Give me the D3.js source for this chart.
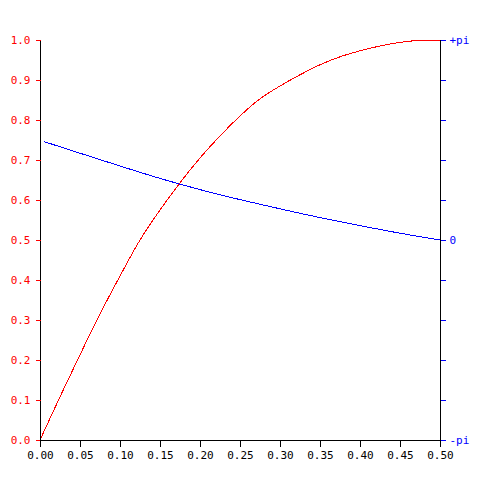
<!DOCTYPE html>
<html><head><meta charset="utf-8">
<script src="https://cdn.jsdelivr.net/npm/d3@7"></script>
<style>body{margin:0;background:#fff}svg{display:block}text{font-family:"DejaVu Sans Mono",monospace;font-size:11px}</style>
</head><body><svg id="c" width="480" height="480"></svg>
<script>
const ampFreq = [0,0.025,0.05,0.075,0.1,0.125,0.15,0.175,0.2,0.225,0.25,0.275,0.3,0.325,0.35,0.375,0.4,0.425,0.45,0.475,0.5];
const ampVals = [0,0.108,0.213,0.315,0.41,0.5,0.575,0.643,0.705,0.76,0.81,0.853,0.885,0.913,0.938,0.958,0.973,0.985,0.994,0.999,1.0];
const phaseFreq = [0.005,0.05,0.1,0.15,0.2,0.25,0.3,0.35,0.4,0.45,0.5];
const phaseVals = [0.746,0.717,0.685,0.654,0.626,0.601,0.578,0.556,0.536,0.517,0.5];
const xTicks = [0,0.05,0.1,0.15,0.2,0.25,0.3,0.35,0.4,0.45,0.5];
const yTicks = [0,0.1,0.2,0.3,0.4,0.5,0.6,0.7,0.8,0.9,1.0];
const rightLabels = {"0":"-pi","0.5":"0","1":"+pi"};

const svg = d3.select("#c");
const x = d3.scaleLinear().domain([0,0.5]).range([40,440]);
const y = d3.scaleLinear().domain([0,1]).range([440,40]);

// curves
const line = d3.line().x(d=>x(d[0])).y(d=>y(d[1])).curve(d3.curveMonotoneX);
svg.append("path").datum(phaseFreq.map((f,i)=>[f,phaseVals[i]]))
  .attr("d",line).attr("fill","none").attr("stroke","#0000ff").attr("stroke-width",1);
svg.append("path").datum(ampFreq.map((f,i)=>[f,ampVals[i]]))
  .attr("d",line).attr("fill","none").attr("stroke","#ff0000").attr("stroke-width",1);

// left axis
const gl = svg.append("g").attr("transform","translate(40.5,0)")
  .call(d3.axisLeft(y).tickValues(yTicks).tickFormat(d3.format(".1f")).tickSize(5).tickPadding(5));
gl.select(".domain").attr("stroke","#000").attr("d","M0,40V440.5");
gl.selectAll(".tick line").attr("stroke","#ff0000");
gl.selectAll(".tick text").attr("fill","#ff0000").style("font-family","DejaVu Sans Mono").style("font-size","11px");

// right axis
const gr = svg.append("g").attr("transform","translate(440.5,0)")
  .call(d3.axisRight(y).tickValues(yTicks).tickFormat(d=>rightLabels[String(+d.toFixed(1))]||"").tickSize(5).tickPadding(4));
gr.select(".domain").attr("stroke","#000").attr("d","M0,40V440.5");
gr.selectAll(".tick line").attr("stroke","#0000ff");
gr.selectAll(".tick text").attr("fill","#0000ff").style("font-family","DejaVu Sans Mono").style("font-size","11px");

// bottom axis
const gb = svg.append("g").attr("transform","translate(0,440.5)")
  .call(d3.axisBottom(x).tickValues(xTicks).tickFormat(d3.format(".2f")).tickSize(6).tickPadding(5));
gb.select(".domain").attr("stroke","#000").attr("d","M40,0H440.5");
gb.selectAll(".tick line").attr("stroke","#000");
gb.selectAll(".tick text").attr("fill","#000").style("font-family","DejaVu Sans Mono").style("font-size","11px");
svg.selectAll("path,line").attr("shape-rendering","crispEdges");
</script></body></html>
